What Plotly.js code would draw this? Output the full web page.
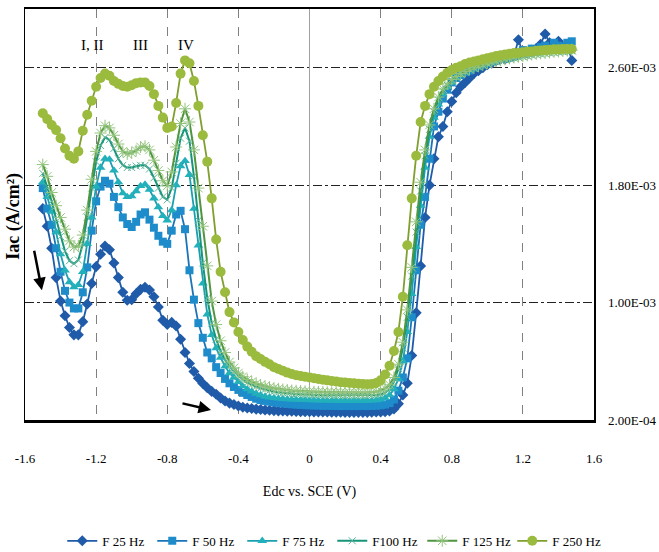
<!DOCTYPE html>
<html>
<head>
<meta charset="utf-8">
<script src="https://cdn.plot.ly/plotly-3.0.1.min.js"></script>
<style>html,body{margin:0;padding:0;background:#fff;}#chart{width:659px;height:552px;}</style>
</head>
<body>
<div id="chart"></div>
<script>
// Edc vs. SCE (V)
const edc = [-1.5,-1.475,-1.45,-1.425,-1.4,-1.375,-1.35,-1.325,-1.3,-1.275,
-1.25,-1.225,-1.2,-1.175,-1.15,-1.125,-1.1,-1.075,-1.05,-1.025,
-1.0,-0.975,-0.95,-0.925,-0.9,-0.875,-0.85,-0.825,-0.8,-0.775,
-0.75,-0.725,-0.7,-0.675,-0.65,-0.625,-0.6,-0.575,-0.55,-0.525,
-0.5,-0.475,-0.45,-0.425,-0.4,-0.375,-0.35,-0.325,-0.3,-0.275,
-0.25,-0.225,-0.2,-0.175,-0.15,-0.125,-0.1,-0.075,-0.05,-0.025,
0,0.025,0.05,0.075,0.1,0.125,0.15,0.175,0.2,0.225,
0.25,0.275,0.3,0.325,0.35,0.375,0.4,0.425,0.45,0.475,
0.5,0.525,0.55,0.575,0.6,0.625,0.65,0.675,0.7,0.725,
0.75,0.775,0.8,0.825,0.85,0.875,0.9,0.925,0.95,0.975,
1.0,1.025,1.05,1.075,1.1,1.125,1.15,1.175,1.2,1.225,
1.25,1.275,1.3,1.325,1.35,1.375,1.4,1.425,1.45,1.475];

// Iac in 1E-03 A/cm2
const f25 = [1.64,1.52,1.37,1.17,1.01,0.91,0.83,0.78,0.78,0.87,
0.99,1.13,1.245,1.33,1.385,1.36,1.27,1.17,1.07,1.016,
1.02,1.06,1.09,1.105,1.085,1.04,0.97,0.88,0.85,0.865,
0.84,0.75,0.66,0.585,0.53,0.485,0.449,0.42,0.395,0.375,
0.35,0.33,0.315,0.305,0.295,0.287,0.282,0.278,0.274,0.271,
0.268,0.266,0.264,0.262,0.261,0.26,0.259,0.258,0.257,0.256,
0.256,0.255,0.255,0.254,0.254,0.253,0.253,0.253,0.252,0.252,
0.252,0.252,0.252,0.252,0.253,0.254,0.255,0.257,0.262,0.275,
0.31,0.37,0.45,0.64,0.93,1.25,1.58,1.80,1.98,2.13,
2.20,2.30,2.37,2.43,2.47,2.50,2.53,2.56,2.58,2.60,
2.62,2.63,2.65,2.66,2.66,2.67,2.68,2.79,2.70,2.70,
2.72,2.73,2.76,2.83,2.77,2.75,2.78,2.74,2.76,2.65];

const f50 = [1.78,1.64,1.53,1.37,1.21,1.08,1.00,0.96,0.96,1.07,
1.24,1.49,1.69,1.79,1.83,1.81,1.72,1.65,1.58,1.535,
1.515,1.55,1.60,1.615,1.565,1.51,1.455,1.415,1.40,1.49,
1.60,1.625,1.50,1.22,1.02,0.86,0.76,0.66,0.62,0.56,
0.52,0.48,0.45,0.425,0.405,0.385,0.37,0.357,0.345,0.336,
0.33,0.325,0.32,0.316,0.313,0.31,0.307,0.305,0.303,0.301,
0.30,0.299,0.298,0.297,0.297,0.296,0.296,0.295,0.295,0.295,
0.295,0.295,0.295,0.295,0.296,0.297,0.30,0.305,0.315,0.34,
0.40,0.49,0.62,0.90,1.22,1.53,1.72,1.98,2.20,2.30,
2.39,2.45,2.50,2.53,2.55,2.57,2.58,2.60,2.61,2.62,
2.63,2.64,2.65,2.67,2.66,2.67,2.68,2.69,2.72,2.71,
2.73,2.72,2.74,2.75,2.73,2.77,2.75,2.74,2.77,2.78];

const f75 = [1.82,1.72,1.62,1.48,1.33,1.22,1.14,1.105,1.12,1.21,
1.40,1.58,1.79,1.92,1.98,1.975,1.90,1.82,1.745,1.72,
1.725,1.76,1.795,1.805,1.77,1.71,1.65,1.59,1.56,1.63,
1.80,1.93,1.965,1.87,1.64,1.39,1.13,0.92,0.78,0.69,
0.625,0.565,0.52,0.49,0.46,0.43,0.41,0.395,0.38,0.37,
0.36,0.355,0.35,0.347,0.344,0.342,0.34,0.339,0.338,0.337,
0.336,0.335,0.334,0.333,0.333,0.332,0.332,0.331,0.331,0.331,
0.331,0.331,0.331,0.332,0.333,0.335,0.34,0.35,0.37,0.41,
0.48,0.60,0.80,1.06,1.38,1.66,1.92,2.13,2.26,2.35,
2.42,2.47,2.50,2.53,2.55,2.57,2.585,2.60,2.61,2.62,
2.63,2.64,2.65,2.66,2.665,2.67,2.675,2.68,2.69,2.69,
2.70,2.70,2.71,2.71,2.72,2.72,2.73,2.73,2.735,2.74];

const f100 = [1.88,1.79,1.69,1.57,1.45,1.35,1.285,1.265,1.29,1.40,
1.58,1.78,1.96,2.07,2.125,2.11,2.05,1.98,1.935,1.92,
1.92,1.93,1.935,1.935,1.91,1.85,1.78,1.72,1.70,1.78,
1.95,2.12,2.19,2.10,1.86,1.56,1.27,1.03,0.86,0.75,
0.67,0.61,0.565,0.53,0.50,0.475,0.455,0.44,0.428,0.417,
0.408,0.40,0.394,0.389,0.385,0.382,0.379,0.377,0.375,0.373,
0.372,0.371,0.37,0.369,0.368,0.368,0.367,0.367,0.366,0.366,
0.366,0.366,0.366,0.367,0.368,0.37,0.375,0.385,0.41,0.46,
0.55,0.69,0.90,1.18,1.48,1.76,2.00,2.18,2.30,2.38,
2.44,2.48,2.51,2.535,2.555,2.57,2.585,2.595,2.605,2.615,
2.625,2.633,2.64,2.648,2.655,2.66,2.665,2.67,2.675,2.68,
2.685,2.69,2.693,2.697,2.70,2.703,2.706,2.709,2.712,2.715];

const f125 = [1.94,1.86,1.75,1.66,1.58,1.50,1.42,1.378,1.385,1.46,
1.63,1.84,2.03,2.155,2.205,2.19,2.14,2.08,2.03,2.013,
2.02,2.035,2.06,2.065,2.04,1.97,1.90,1.83,1.795,1.89,
2.06,2.22,2.32,2.23,2.04,1.78,1.52,1.25,1.01,0.85,
0.74,0.66,0.595,0.555,0.52,0.495,0.475,0.46,0.448,0.438,
0.43,0.423,0.417,0.412,0.408,0.404,0.401,0.399,0.397,0.395,
0.393,0.392,0.391,0.39,0.389,0.389,0.388,0.388,0.387,0.387,
0.387,0.387,0.387,0.388,0.39,0.393,0.40,0.415,0.44,0.49,
0.58,0.73,0.95,1.24,1.55,1.82,2.04,2.21,2.32,2.40,
2.455,2.49,2.52,2.54,2.56,2.575,2.59,2.60,2.61,2.62,
2.63,2.637,2.645,2.652,2.658,2.664,2.67,2.675,2.68,2.685,
2.69,2.694,2.698,2.70,2.705,2.708,2.711,2.714,2.717,2.72];

const f250 = [2.29,2.25,2.21,2.175,2.12,2.05,2.00,1.98,2.03,2.17,
2.28,2.375,2.47,2.53,2.56,2.545,2.51,2.49,2.475,2.47,
2.48,2.495,2.50,2.50,2.475,2.42,2.34,2.26,2.19,2.20,
2.36,2.56,2.65,2.63,2.51,2.34,2.14,1.96,1.71,1.43,
1.21,1.07,0.935,0.865,0.80,0.745,0.70,0.665,0.635,0.615,
0.596,0.58,0.56,0.547,0.535,0.523,0.513,0.505,0.50,0.495,
0.49,0.485,0.48,0.475,0.47,0.466,0.462,0.458,0.455,0.452,
0.45,0.447,0.445,0.443,0.445,0.452,0.47,0.51,0.57,0.67,
0.80,1.04,1.39,1.71,2.00,2.23,2.34,2.42,2.47,2.51,
2.54,2.565,2.585,2.60,2.61,2.625,2.635,2.642,2.65,2.657,
2.665,2.672,2.68,2.685,2.69,2.695,2.70,2.70,2.705,2.71,
2.71,2.715,2.717,2.72,2.722,2.725,2.725,2.727,2.727,2.727];

const seriesNames = ['F 25 Hz','F 50 Hz','F 75 Hz','F100 Hz','F 125 Hz','F 250 Hz'];
const xTickVals = [-1.6,-1.2,-0.8,-0.4,0,0.4,0.8,1.2,1.6];
const xTickText = ['-1.6','-1.2','-0.8','-0.4','0','0.4','0.8','1.2','1.6'];
const yTickVals = [0.2,1.0,1.8,2.6];
const yTickText = ['2.00E-04','1.00E-03','1.80E-03','2.60E-03'];

const serif = 'Liberation Serif, DejaVu Serif, serif';

const traces = [
  {y: f25, name: seriesNames[0], line:{color:'#1f5ba8',width:1.8},
   marker:{symbol:'diamond',size:8.5,color:'#1f5ba8'}},
  {y: f50, name: seriesNames[1], line:{color:'#1a74b8',width:1.8},
   marker:{symbol:'square',size:8,color:'#1e8ccb'}},
  {y: f75, name: seriesNames[2], line:{color:'#1a9fb0',width:1.8},
   marker:{symbol:'triangle-up',size:8.5,color:'#22b0bb'}},
  {y: f100, name: seriesNames[3], line:{color:'#17957a',width:2},
   marker:{symbol:'x-thin',size:7,color:'#5bb59a',line:{width:1,color:'#5bb59a'}}},
  {y: f125, name: seriesNames[4], line:{color:'#4f9640',width:2},
   marker:{symbol:'asterisk',size:10,color:'#93c47d',line:{width:1,color:'#93c47d'}}},
  {y: f250, name: seriesNames[5], line:{color:'#7f9f2f',width:1.8},
   marker:{symbol:'circle',size:10,color:'#9bbb3e'}}
].map(t => Object.assign({x: edc, type:'scatter', mode:'lines+markers'}, t));

const layout = {
  width: 659, height: 552,
  margin: {l:25, r:65, t:9, b:132, autoexpand:false},
  paper_bgcolor:'#fff', plot_bgcolor:'#fff',
  font: {family: serif, color:'#000'},
  showlegend: true,
  legend: {orientation:'h', x:0.54, xanchor:'center', y:-0.294, yanchor:'middle',
           font:{family:serif, size:13, color:'#000'}, itemwidth:30, traceorder:'normal',
           entrywidth:45, entrywidthmode:'pixels', tracegroupgap:0},
  xaxis: {range:[-1.6,1.6], tickmode:'array', tickvals:xTickVals, ticktext:xTickText,
          showgrid:true, gridcolor:'#808080', griddash:'dash', gridwidth:1,
          zeroline:true, zerolinecolor:'#a0a0a0', zerolinewidth:1,
          showline:true, linecolor:'#000', linewidth:2.5, mirror:true,
          ticks:'', ticklabelstandoff:25,
          tickfont:{family:serif, size:13, color:'#000'},
          title:{text:'Edc vs. SCE (V)', font:{family:serif, size:14, color:'#000'}, standoff:21}},
  yaxis: {range:[0.2,3.0], side:'right', tickmode:'array', tickvals:yTickVals, ticktext:yTickText,
          showgrid:true, gridcolor:'#222', griddash:'dashdot', gridwidth:1,
          zeroline:false, showline:true, linecolor:'#000', linewidth:1.5, mirror:true,
          ticks:'', ticklabelstandoff:10,
          tickfont:{family:serif, size:13, color:'#000'}},
  annotations: [
    {xref:'paper', yref:'paper', x:-0.02, y:0.496, text:'<b>Iac (A/cm²)</b>', textangle:-90,
     showarrow:false, xanchor:'center', yanchor:'middle', font:{family:serif, size:18, color:'#000'}},
    {x:-1.218, y:2.756, text:'I, II', showarrow:false, font:{family:serif, size:15, color:'#000'}},
    {x:-0.953, y:2.756, text:'III', showarrow:false, font:{family:serif, size:15, color:'#000'}},
    {x:-0.695, y:2.756, text:'IV', showarrow:false, font:{family:serif, size:15, color:'#000'}},
    {x:-1.505, y:1.084, ax:-8, ay:-41, text:'', showarrow:true, arrowhead:2, arrowsize:1,
     arrowwidth:2.5, arrowcolor:'#000'},
    {x:-0.554, y:0.268, ax:-30, ay:-7, text:'', showarrow:true, arrowhead:2, arrowsize:1,
     arrowwidth:2.5, arrowcolor:'#000'}
  ]
};

Plotly.newPlot('chart', traces, layout, {displayModeBar:false, staticPlot:true});
</script>
</body>
</html>
